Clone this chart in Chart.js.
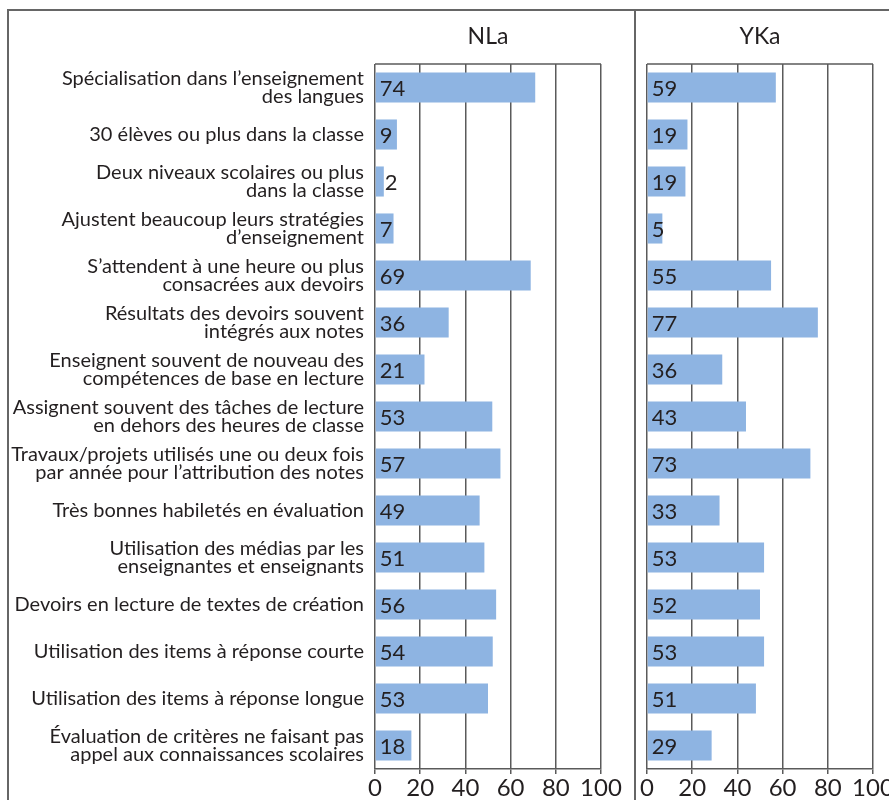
<!DOCTYPE html>
<html>
<head>
<meta charset="utf-8">
<script src="https://cdn.jsdelivr.net/npm/chart.js@4.4.1/dist/chart.umd.min.js"></script>
<style>
  html, body { margin: 0; padding: 0; background: #fff; }
  #wrap { position: relative; width: 889px; height: 800px; overflow: hidden; }
  .rule { position: absolute; background: #666; }
  canvas { position: absolute; top: 0; }
</style>
</head>
<body>
<div id="wrap">
  <div class="rule" style="left:8px; top:9px; width:881px; height:2px;"></div>
  <div class="rule" style="left:7px; top:9px; width:2px; height:791px;"></div>
  <div class="rule" style="left:634px; top:9px; width:2px; height:791px;"></div>
  <canvas id="nla" width="636" height="800" style="left:0"></canvas>
  <canvas id="yka" width="253" height="800" style="left:636px"></canvas>
</div>
<script>
// categories (multi-line labels as arrays)
const categories = [
  ['Spécialisation dans l’enseignement', 'des langues'],
  '30 élèves ou plus dans la classe',
  ['Deux niveaux scolaires ou plus', 'dans la classe'],
  ['Ajustent beaucoup leurs stratégies', 'd’enseignement'],
  ['S’attendent à une heure ou plus', 'consacrées aux devoirs'],
  ['Résultats des devoirs souvent', 'intégrés aux notes'],
  ['Enseignent souvent de nouveau des', 'compétences de base en lecture'],
  ['Assignent souvent des tâches de lecture', 'en dehors des heures de classe'],
  ['Travaux/projets utilisés une ou deux fois', 'par année pour l’attribution des notes'],
  'Très bonnes habiletés en évaluation',
  ['Utilisation des médias par les', 'enseignantes et enseignants'],
  'Devoirs en lecture de textes de création',
  'Utilisation des items à réponse courte',
  'Utilisation des items à réponse longue',
  ['Évaluation de critères ne faisant pas', 'appel aux connaissances scolaires']
];

// printed values
const nlaLabels = [74, 9, 2, 7, 69, 36, 21, 53, 57, 49, 51, 56, 54, 53, 18];
const ykaLabels = [59, 19, 19, 5, 55, 77, 36, 43, 73, 33, 53, 52, 53, 51, 29];
// bar lengths as drawn in the picture
const nlaBars = [70.9, 9.7, 3.9, 8.2, 68.9, 32.6, 21.9, 51.9, 55.5, 46.3, 48.4, 53.6, 52.1, 50, 16.1];
const ykaBars = [57, 17.9, 17, 6.8, 54.9, 75.6, 33.3, 43.8, 72.3, 32.1, 51.8, 50, 51.8, 48.2, 28.6];

const xTicks = [0, 20, 40, 60, 80, 100];

const FONT = 'Lato, "Open Sans", sans-serif';
const INK = '#231f20';
const GRID = '#5a5a5a';
const BAR = '#8eb4e2';

Chart.defaults.font.family = FONT;
Chart.defaults.color = INK;

// draws panel title, top frame line and the value labels
function panelPlugin(title, printed) {
  return {
    id: 'panel',
    afterDatasetsDraw(chart) {
      const { ctx, chartArea } = chart;
      ctx.save();
      ctx.strokeStyle = GRID;
      ctx.lineWidth = 1.5;
      ctx.beginPath();
      ctx.moveTo(chartArea.left, chartArea.top);
      ctx.lineTo(chartArea.right, chartArea.top);
      ctx.stroke();

      ctx.fillStyle = INK;
      ctx.font = '23px ' + FONT;
      ctx.textAlign = 'center';
      ctx.textBaseline = 'middle';
      ctx.fillText(title, (chartArea.left + chartArea.right) / 2, 37);

      ctx.font = '22px ' + FONT;
      ctx.textAlign = 'left';
      chart.getDatasetMeta(0).data.forEach((bar, i) => {
        const txt = String(printed[i]);
        const w = ctx.measureText(txt).width;
        let x = bar.base + 4;
        // too narrow: put the number just past the bar end
        if (w + 1 > bar.x - bar.base) x = bar.x + 1;
        ctx.fillText(txt, x, bar.y + 1);
      });
      ctx.restore();
    }
  };
}

function makePanel(id, title, bars, printed, showCats, pad, yWidth) {
  return new Chart(document.getElementById(id), {
    type: 'bar',
    data: {
      labels: categories,
      datasets: [{
        data: bars,
        backgroundColor: BAR,
        borderWidth: 0,
        barPercentage: 0.64,
        categoryPercentage: 1
      }]
    },
    options: {
      indexAxis: 'y',
      responsive: false,
      animation: false,
      devicePixelRatio: 1,
      layout: { padding: pad },
      plugins: { legend: { display: false }, tooltip: { enabled: false } },
      scales: {
        x: {
          min: 0,
          max: 100,
          afterBuildTicks: s => { s.ticks = xTicks.map(v => ({ value: v })); },
          ticks: { font: { size: 24 }, color: INK, padding: 0, maxRotation: 0, autoSkip: false },
          grid: { color: GRID, lineWidth: 1.5, tickLength: 5, drawTicks: true },
          border: { color: GRID, width: 1.5 },
          afterFit: s => { s.height = 31; s.paddingLeft = 0; s.paddingRight = 0; }
        },
        y: {
          display: showCats,
          grid: { display: false, drawTicks: false },
          border: { display: false },
          ticks: { font: { size: 20, lineHeight: 0.88 }, color: INK, padding: 11, autoSkip: false },
          afterFit: s => { s.width = yWidth; }
        }
      }
    },
    plugins: [panelPlugin(title, printed)]
  });
}

makePanel('nla', 'NLa', nlaBars, nlaLabels, true, { top: 64, right: 35, left: 0, bottom: 0 }, 375);
makePanel('yka', 'YKa', ykaBars, ykaLabels, false, { top: 64, right: 16, left: 11, bottom: 0 }, 0);
</script>
</body>
</html>
